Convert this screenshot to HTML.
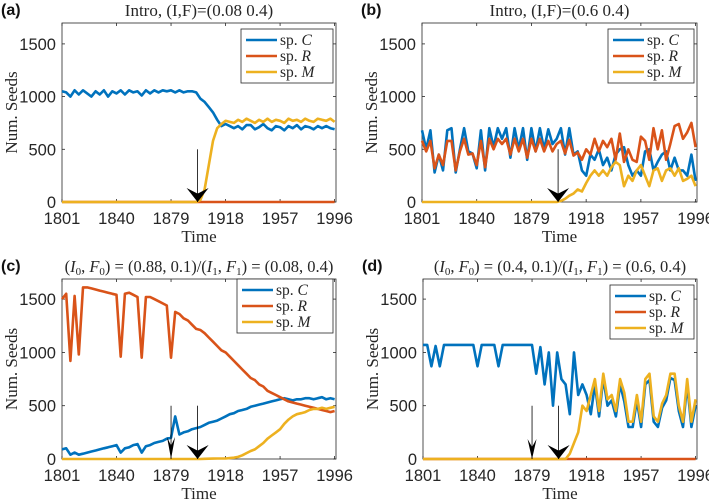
<!DOCTYPE html>
<html><head><meta charset="utf-8"><style>
html,body{margin:0;padding:0;background:#fff;width:709px;height:499px;overflow:hidden}
svg{display:block}
.tk{font-family:"Liberation Sans",sans-serif;font-size:16.5px;fill:#262626}
.sf{font-family:"Liberation Serif",serif;fill:#262626}
</style></head><body>
<svg id="fig" width="709" height="499" viewBox="0 0 709 499"></svg>
<script>
// years sampled every 3 years, 1801..1996
const years = [];
for (let y = 1801; y <= 1996; y += 3) years.push(y);
const yTicks = [0, 500, 1000, 1500];
const xTicks = [1801, 1840, 1879, 1918, 1957, 1996];
const zeros = years.map(() => 0);

const aC = [1050,1040,1000,1060,1020,1060,1030,1000,1050,1020,1060,1000,1050,1030,1060,1020,1060,1040,1050,1010,1060,1030,1060,1040,1060,1050,1060,1040,1060,1040,1050,1050,1040,980,950,900,850,780,720,740,720,700,720,690,730,730,690,710,740,700,680,720,710,680,720,700,730,690,720,710,690,720,700,720,700,690];
const aR = zeros;
const aM = [0,0,0,0,0,0,0,0,0,0,0,0,0,0,0,0,0,0,0,0,0,0,0,0,0,0,0,0,0,0,0,0,0,20,120,350,580,700,740,770,760,750,780,760,790,770,750,780,760,790,760,780,770,750,790,770,780,760,790,770,760,790,780,770,790,760];

const bC = [680,500,680,280,450,300,680,700,280,500,700,480,460,320,680,300,700,520,700,600,700,420,700,500,700,400,700,480,700,500,690,550,600,700,450,700,450,480,300,250,450,400,500,350,420,300,450,500,520,350,250,300,250,480,500,300,380,450,480,300,420,300,300,250,450,200];
const bR = [580,480,580,320,450,350,580,580,300,480,600,450,460,350,580,330,600,500,600,550,600,450,600,480,600,420,600,480,600,480,580,480,550,580,460,590,440,470,400,500,450,600,480,580,520,600,400,650,380,500,400,380,620,580,400,700,500,680,400,550,720,740,600,660,750,520];
const bM = [0,0,0,0,0,0,0,0,0,0,0,0,0,0,0,0,0,0,0,0,0,0,0,0,0,0,0,0,0,0,0,0,0,10,30,60,80,120,100,180,250,300,250,300,250,330,380,350,150,250,200,300,350,250,150,300,320,200,300,320,250,320,200,220,250,150];

const cC = [90,100,40,60,40,50,60,70,80,90,100,110,120,130,60,100,110,130,140,60,120,130,150,160,170,190,200,400,230,250,260,280,290,300,320,340,350,360,380,400,420,430,450,460,470,490,500,510,520,530,540,550,560,570,560,550,560,560,570,570,560,570,580,560,570,560];
const cR = [1500,1550,920,1530,980,1610,1610,1600,1590,1580,1570,1560,1550,1540,960,1550,1560,1540,1520,950,1520,1520,1500,1480,1460,1440,950,1380,1360,1320,1300,1260,1220,1210,1180,1140,1100,1060,1020,1000,960,920,880,840,800,760,740,700,680,640,620,600,580,560,540,530,520,510,500,490,480,470,460,450,440,450];
const cM = [0,0,0,0,0,0,0,0,0,0,0,0,0,0,0,0,0,0,0,0,0,0,0,0,0,0,0,0,0,0,0,0,0,0,2,3,4,5,5,5,8,12,20,35,55,75,90,120,150,190,220,250,280,330,370,400,420,430,440,460,470,470,480,470,480,490];

const dC = [1070,1070,870,1060,870,1070,1070,1070,1070,1070,1070,1070,1070,870,1070,1070,1070,1070,870,1070,1070,1070,1070,1070,1070,1070,1070,800,1050,700,1000,500,1000,750,700,420,1000,600,700,600,420,700,400,760,500,550,400,700,540,300,300,550,300,700,740,350,300,480,550,760,740,450,300,700,300,500];
const dR = zeros;
const dM = [0,0,0,0,0,0,0,0,0,0,0,0,0,0,0,0,0,0,0,0,0,0,0,0,0,0,0,0,0,0,0,0,0,0,0,50,150,250,500,450,600,750,450,800,560,600,450,750,620,350,350,600,350,750,800,400,350,520,600,800,800,500,350,750,350,560];

const NS = "http://www.w3.org/2000/svg";
const svg = document.getElementById('fig');
function mk(tag, attrs, parent) {
  const e = document.createElementNS(NS, tag);
  for (const k in attrs) e.setAttribute(k, attrs[k]);
  (parent || svg).appendChild(e);
  return e;
}
const COL = {C:'#0072BD', R:'#D95319', M:'#EDB120'};

function panel(p) {
  const g = mk('g', {});
  
  
  const X = v => p.L + (v - 1801) / (1997 - 1801) * (p.R - p.L);
  const Y = v => p.Z - v / 500 * p.S;
  const box = mk('rect', {x:p.L, y:p.T, width:p.R-p.L, height:p.Z-p.T, fill:'#fff', stroke:'#262626', 'stroke-width':0.8}, g);
  
  
  yTicks.forEach(v => {
    mk('line', {x1:p.L, x2:p.L+3, y1:Y(v), y2:Y(v), stroke:'#262626', 'stroke-width':0.8}, g);
    mk('line', {x1:p.R, x2:p.R-3, y1:Y(v), y2:Y(v), stroke:'#262626', 'stroke-width':0.8}, g);
    const t = mk('text', {x:p.L-6, y:Y(v)+6, 'text-anchor':'end', class:'tk'}, g);
    t.textContent = v;
    
    
  });
  xTicks.forEach(v => {
    mk('line', {x1:X(v), x2:X(v), y1:p.Z, y2:p.Z-3, stroke:'#262626', 'stroke-width':0.8}, g);
    mk('line', {x1:X(v), x2:X(v), y1:p.T, y2:p.T+3, stroke:'#262626', 'stroke-width':0.8}, g);
    const t = mk('text', {x:X(v), y:p.Z+22, 'text-anchor':'middle', class:'tk'}, g);
    t.textContent = v;
    
    
  });
  [['C', p.C], ['R', p.Rs], ['M', p.M]].forEach(([k, arr]) => {
    const d = arr.map((v, i) => (i ? 'L' : 'M') + X(years[i]).toFixed(1) + ',' + Y(v).toFixed(1)).join('');
    const pl = mk('path', {d, fill:'none', stroke:COL[k], 'stroke-width':2.6, 'stroke-linejoin':'round'}, g);
    
    
  });
  p.arrows.forEach(a => {
    const x = X(a.year), top = Y(500), tip = Y(0);
    const ar = mk('g', {}, g);
    
    
    mk('line', {x1:x, x2:x, y1:top, y2:tip, stroke:'#000', 'stroke-width':0.8}, ar);
    const w = a.w, h = a.h;
    mk('path', {d:`M${x},${tip} L${x-w/2},${tip-h} L${x},${tip-h*0.6} L${x+w/2},${tip-h} Z`, fill:'#000'}, ar);
  });
  const lg = mk('g', {}, g);
  
  
  mk('rect', {x:p.lx, y:p.ly, width:p.R-3-p.lx, height:54, fill:'#fff', stroke:'#262626', 'stroke-width':0.8}, lg);
  ['C','R','M'].forEach((k, i) => {
    const yy = p.ly + 11 + i*16;
    const e = mk('g', {}, lg);
    
    
    mk('line', {x1:p.lx+5, x2:p.lx+36, y1:yy, y2:yy, stroke:COL[k], 'stroke-width':2.6}, e);
    const t = mk('text', {x:p.lx+39, y:yy+5, class:'sf', 'font-size':15.5}, e);
    t.innerHTML = 'sp. <tspan font-style="italic">' + k + '</tspan>';
  });
  const yl = mk('text', {x:0, y:0, class:'sf', 'font-size':17, 'text-anchor':'middle', transform:`translate(${p.L-45},${(p.T+p.Z)/2}) rotate(-90)`}, g);
  yl.textContent = 'Num. Seeds';
  
  
  const xl = mk('text', {x:(p.L+p.R)/2, y:p.Z+40, class:'sf', 'font-size':17, 'text-anchor':'middle'}, g);
  xl.textContent = 'Time';
  
  
  const tt = mk('text', {x:(p.L+p.R)/2, y:p.T-7, class:'sf', 'font-size':p.tfs, 'text-anchor':'middle'}, g);
  tt.innerHTML = p.title;
  
  
  const lt = mk('text', {x:p.L-61, y:p.T-8, 'font-family':'Liberation Sans, sans-serif', 'font-weight':'bold', 'font-size':16, fill:'#111'}, g);
  lt.textContent = '(' + p.id + ')';
  
  
}

const sub = (a, b) => `<tspan font-style="italic">${a}</tspan><tspan font-size="11" dy="3">${b}</tspan><tspan dy="-3">`;
panel({id:'a', L:62, R:336, T:23, Z:202, S:52.7, lx:241, ly:29, C:aC, Rs:aR, M:aM, tfs:17,
  arrows:[{year:1898, w:22, h:14}], title:'Intro, (I,F)=(0.08 0.4)'});
panel({id:'b', L:422, R:697, T:23, Z:202, S:52.7, lx:608, ly:29, C:bC, Rs:bR, M:bM, tfs:17,
  arrows:[{year:1898, w:22, h:14}], title:'Intro, (I,F)=(0.6 0.4)'});
panel({id:'c', L:62, R:336, T:279, Z:459, S:53.3, lx:237, ly:279, C:cC, Rs:cR, M:cM, tfs:16.5,
  arrows:[{year:1879, w:8, h:22}, {year:1898, w:22, h:14}],
  title:'(' + sub('I','0') + ', ' + sub('F','0') + ') = (0.88, 0.1)/(' + sub('I','1') + ', ' + sub('F','1') + ') = (0.08, 0.4)</tspan></tspan></tspan></tspan>'});
panel({id:'d', L:423, R:697, T:279, Z:459, S:53.3, lx:610, ly:285, C:dC, Rs:dR, M:dM, tfs:16.5,
  arrows:[{year:1879, w:9, h:20}, {year:1898, w:22, h:14}],
  title:'(' + sub('I','0') + ', ' + sub('F','0') + ') = (0.4, 0.1)/(' + sub('I','1') + ', ' + sub('F','1') + ') = (0.6, 0.4)</tspan></tspan></tspan></tspan>'});
</script>
</body></html>
